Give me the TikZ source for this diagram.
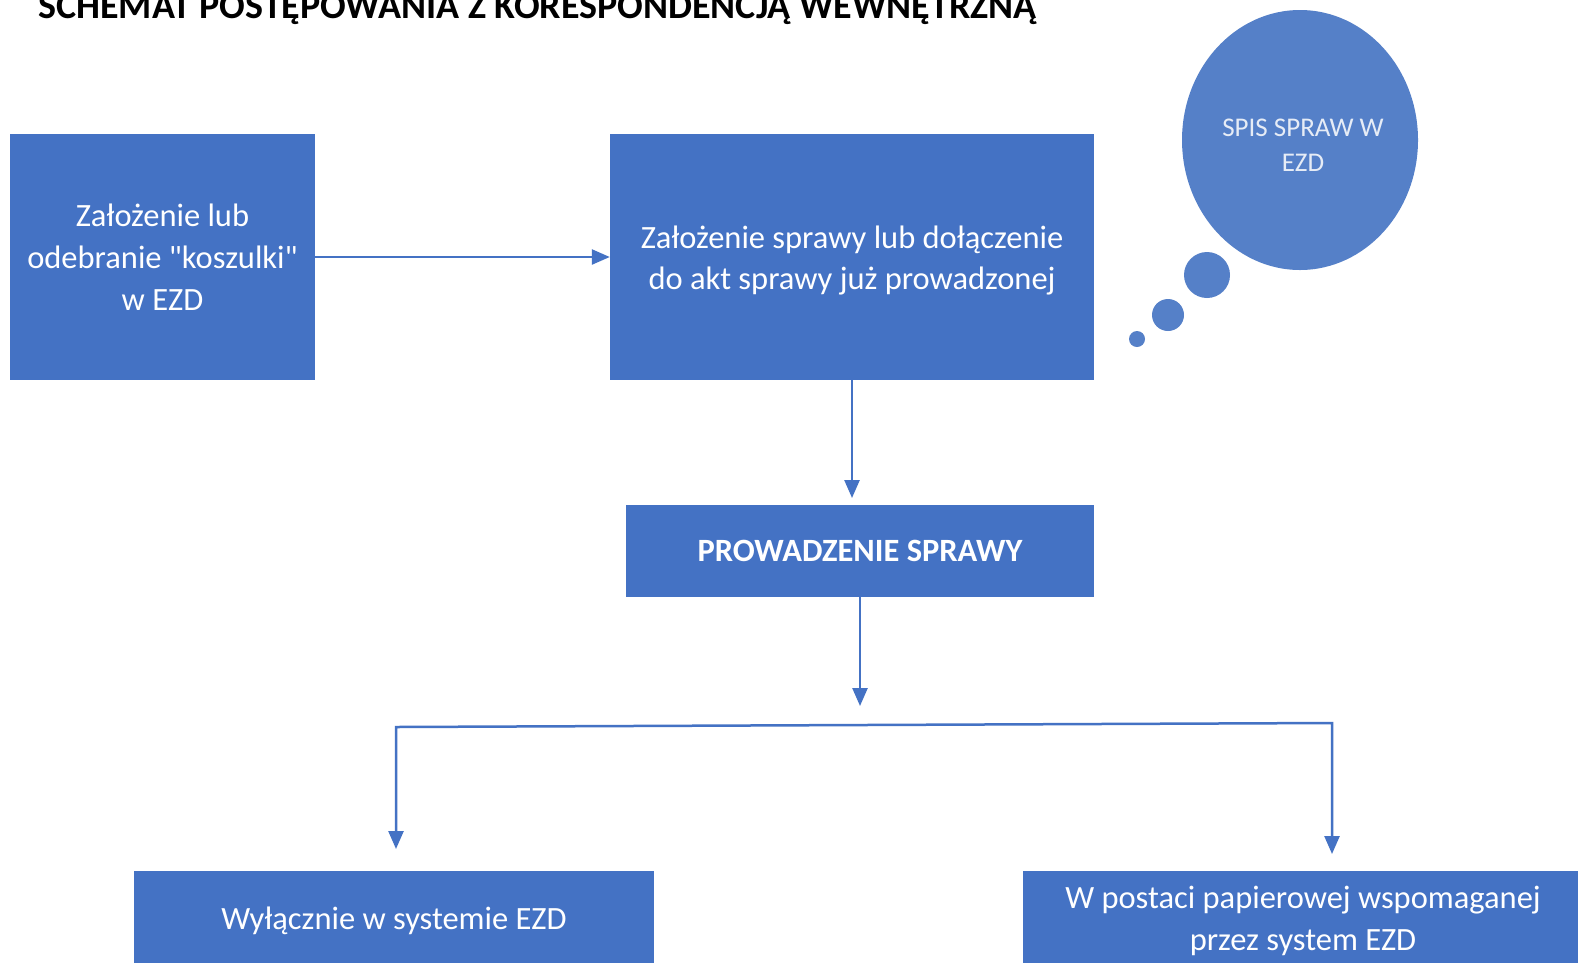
\documentclass[tikz,border=0pt]{standalone}
\usepackage{fontspec}
\setmainfont{Carlito}[Ligatures=TeXOff]
\usetikzlibrary{arrows.meta}
\definecolor{boxblue}{HTML}{4472C4}
\definecolor{bubble}{HTML}{5580C8}
\definecolor{bubtext}{HTML}{E6ECF6}
\tikzset{
  box/.style={fill=boxblue, draw=none, text=white, align=center, inner sep=0pt},
  conn/.style={draw=boxblue, line width=2.5pt, -{Triangle[length=18pt,width=15pt]}},
  brconn/.style={draw=boxblue, line width=2.5pt, {Triangle[length=18pt,width=15pt]}-{Triangle[length=18pt,width=15pt]}},
  bub/.style={fill=bubble, draw=none, circle, inner sep=0pt}
}
\begin{document}
\begin{tikzpicture}[x=1pt,y=-1pt]
\useasboundingbox (0,0) rectangle (1578,962);
\fill[white] (0,0) rectangle (1578,962);

\node[anchor=base west, font=\bfseries\fontsize{38}{40}\selectfont, inner sep=0pt] (title) at (38,18) {SCHEMAT POSTĘPOWANIA Z KORESPONDENCJĄ WEWNĘTRZNĄ};

\node[box, minimum width=305pt, minimum height=246pt, font=\fontsize{32.5}{42}\selectfont] (b1) at (162.5,257) {Założenie lub\\odebranie "koszulki"\\w EZD};
\node[box, minimum width=484pt, minimum height=246pt, font=\fontsize{32.5}{41}\selectfont] (b2) at (852,257) {};
\node[white, align=center, inner sep=0pt, font=\fontsize{32.5}{41}\selectfont] (b2t) at (852,260) {Założenie sprawy lub dołączenie\\do akt sprawy już prowadzonej};
\node[box, minimum width=468pt, minimum height=92pt, font=\bfseries\fontsize{32.5}{36}\selectfont] (b3) at (860,551) {PROWADZENIE SPRAWY};
\node[box, minimum width=520pt, minimum height=100pt] (b4) at (394,921) {};
\node[white, inner sep=0pt, font=\fontsize{32.5}{42}\selectfont] (b4t) at (394,921) {Wyłącznie w systemie EZD};
\node[box, minimum width=560pt, minimum height=100pt] (b5) at (1303,921) {};
\node[white, align=center, inner sep=0pt, font=\fontsize{32.5}{42}\selectfont] (b5t) at (1303,921) {W postaci papierowej wspomaganej\\przez system EZD};

\fill[bubble] (1300,140) ellipse [x radius=118pt, y radius=130pt];
\node[text=bubtext, align=center, font=\fontsize{27}{35}\selectfont] (spis) at (1303,145) {SPIS SPRAW W\\EZD};
\node[bub, minimum size=46pt] (c1) at (1207,275) {};
\node[bub, minimum size=32pt] (c2) at (1168,315) {};
\node[bub, minimum size=16pt] (c3) at (1137,339) {};

\coordinate (t2) at (852,498);
\coordinate (s3) at (860,596);
\coordinate (t3) at (860,706);
\coordinate (lt) at (396,727);
\coordinate (rt) at (1332,723);
\coordinate (la) at (396,849);
\coordinate (ra) at (1332,854);

\draw[conn] (b1.east) -- (b2.west);
\draw[conn] (b2.south) -- (t2);
\draw[conn] (s3) -- (t3);
\draw[brconn] (la) -- (lt) -- (rt) -- (ra);
\end{tikzpicture}
\end{document}
